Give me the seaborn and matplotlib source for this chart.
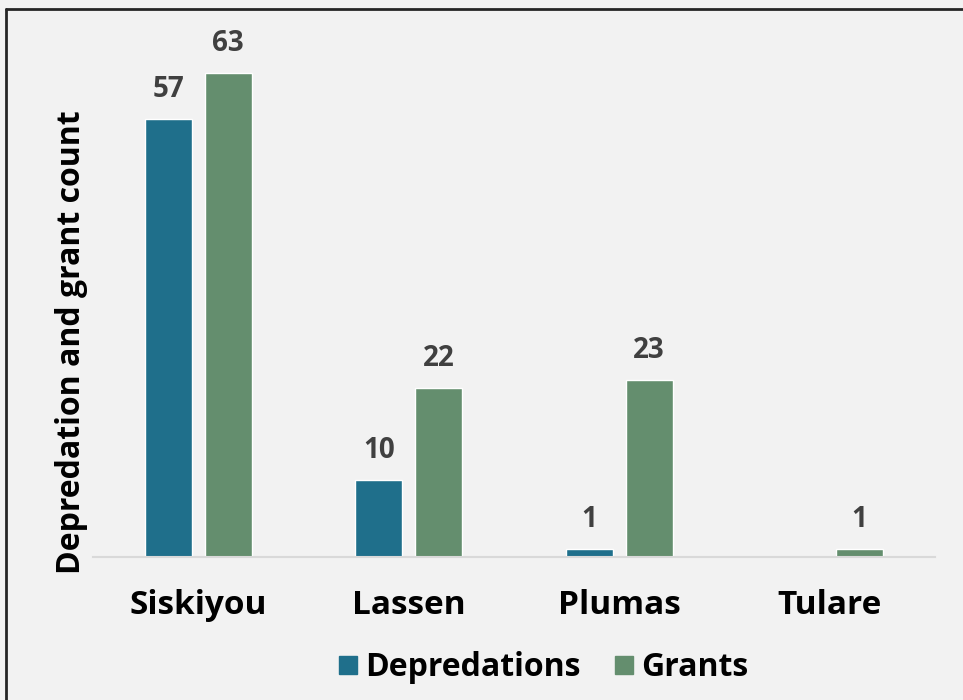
import matplotlib
matplotlib.use("Agg")
import matplotlib.pyplot as plt
import matplotlib.lines as mlines
import seaborn as sns
import pandas as pd

# data
counties = ["Siskiyou", "Lassen", "Plumas", "Tulare"]
depredations = [57, 10, 1, 0]
grants = [63, 22, 23, 1]
series_names = ["Depredations", "Grants"]
colors = ["#1F6F8B", "#648E6E"]

df = pd.DataFrame({
    "county": counties * 2,
    "count": depredations + grants,
    "series": [series_names[0]] * 4 + [series_names[1]] * 4,
})

sns.set_theme(style="white")
plt.rcParams["font.family"] = ["Open Sans", "DejaVu Sans"]

bg = "#F2F2F2"
fig = plt.figure(figsize=(9.63, 7.0), dpi=100, facecolor=bg)
ax = fig.add_axes([93 / 963, 1 - 557 / 700, 842 / 963, 538 / 700])
ax.set_facecolor(bg)

sns.barplot(data=df, x="county", y="count", hue="series", order=counties,
            hue_order=series_names, palette=colors, saturation=1,
            width=0.57, gap=0.22, ax=ax, legend=False)

ax.set_xlim(-0.5, 3.5)
ax.set_ylim(0, 70)
ax.set_yticks([])
ax.set_xlabel("")
ax.set_ylabel("")
for s in ["top", "right", "left"]:
    ax.spines[s].set_visible(False)
ax.spines["bottom"].set_color("#D9D9D9")
ax.spines["bottom"].set_linewidth(1.5)
ax.tick_params(axis="x", length=0, pad=23)
for lbl in ax.get_xticklabels():
    lbl.set_fontsize(24)
    lbl.set_fontweight("bold")
    lbl.set_color("black")

# value labels (skip zero bars)
for cont in ax.containers:
    labels = [f"{v:g}" if v > 0 else "" for v in cont.datavalues]
    ax.bar_label(cont, labels=labels, padding=11, fontsize=20,
                 fontweight="bold", color="#404040")

fig.text(72 / 963, 1 - 342 / 700, "Depredation and grant count", rotation=90,
         ha="center", va="center", fontsize=23, fontweight="bold", color="black")

handles = [mlines.Line2D([], [], marker="s", linestyle="", markersize=13,
                         color=c, label=n) for c, n in zip(colors, series_names)]
fig.legend(handles=handles, loc="center", bbox_to_anchor=(541 / 963, 1 - 668 / 700),
           ncol=2, frameon=False, prop={"weight": "bold", "size": 23},
           labelcolor="black", handletextpad=0.1, columnspacing=0.9,
           handlelength=0.9)

# frame lines on left and top of the figure
fig.add_artist(mlines.Line2D([6 / 963, 6 / 963], [0, 1 - 9 / 700],
                             transform=fig.transFigure, color="#262626", lw=2))
fig.add_artist(mlines.Line2D([6 / 963, 1], [1 - 9 / 700, 1 - 9 / 700],
                             transform=fig.transFigure, color="#262626", lw=2))

fig.savefig("out.png", dpi=100, facecolor=bg)
